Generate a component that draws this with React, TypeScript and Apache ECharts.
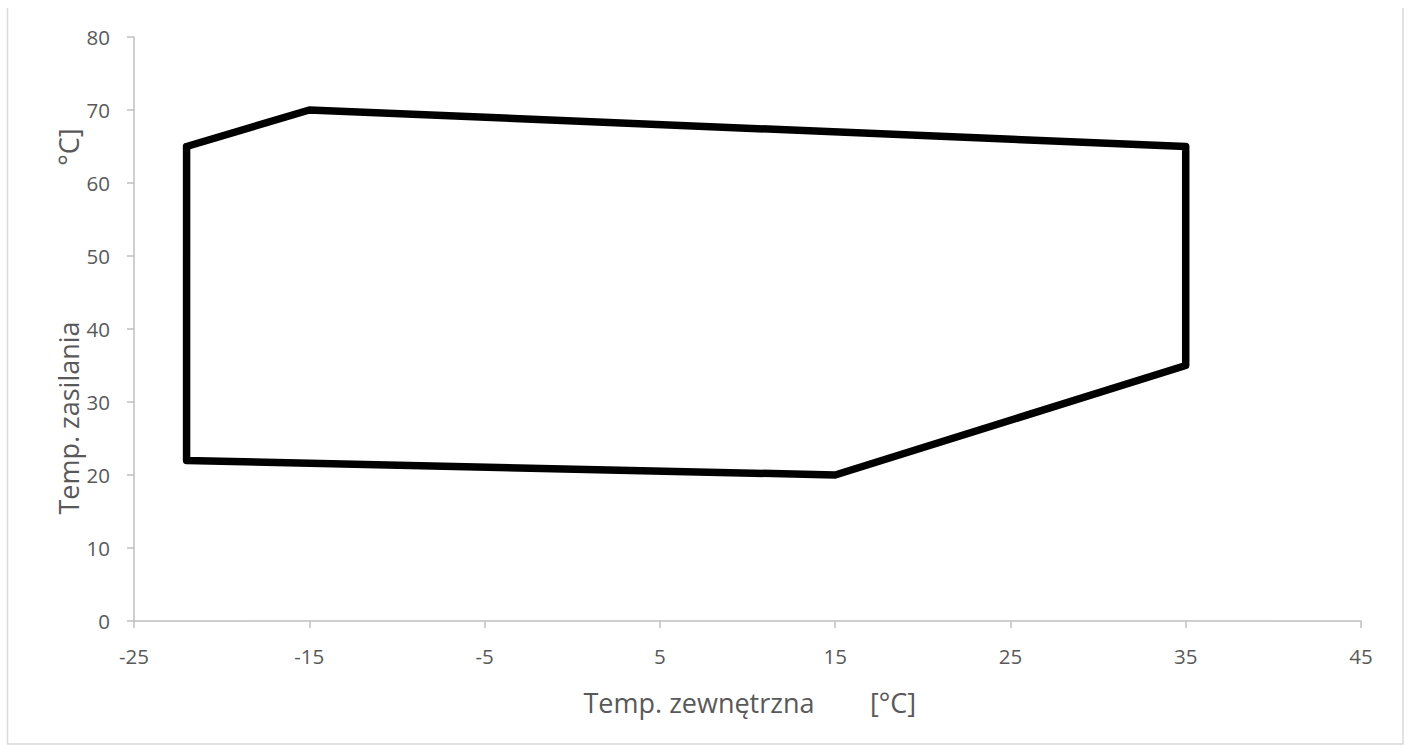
import React, { useEffect, useRef } from "react";
import * as echarts from "echarts";

const outdoorTemp: number[] = [-22, -15, 35, 35, 15, -22, -22];
const supplyTemp: number[] = [65, 70, 65, 35, 20, 22, 65];
const xTicks: number[] = [-25, -15, -5, 5, 15, 25, 35, 45];
const yTicks: number[] = [0, 10, 20, 30, 40, 50, 60, 70, 80];
const xTitleMain = "Temp. zewnętrzna";
const xTitleUnit = "[°C]";
const yTitleMain = "Temp. zasilania";
const yTitleUnit = "°C]";

const FONT = "'Open Sans', 'Noto Sans', sans-serif";
const AXIS_COLOR = "#bfbfbf";
const LABEL_COLOR = "#595959";

export default function App() {
  const ref = useRef<HTMLDivElement>(null);
  useEffect(() => {
    if (!ref.current) return;
    const chart = echarts.init(ref.current, undefined, { renderer: "svg" });
    const data = outdoorTemp.map((x, i) => [x, supplyTemp[i]]);
    chart.setOption({
      animation: false,
      backgroundColor: "#ffffff",
      grid: { left: 134, right: 49, top: 37, bottom: 124, containLabel: false },
      xAxis: {
        type: "value",
        min: xTicks[0],
        max: xTicks[xTicks.length - 1],
        axisLine: { show: true, onZero: false, lineStyle: { color: AXIS_COLOR, width: 1.5 } },
        axisTick: { show: true, inside: false, length: 7, customValues: xTicks, lineStyle: { color: AXIS_COLOR, width: 1.5 } },
        axisLabel: { customValues: xTicks, margin: 24, color: LABEL_COLOR, fontSize: 20.5, fontFamily: FONT },
        splitLine: { show: false },
      },
      yAxis: {
        type: "value",
        min: yTicks[0],
        max: yTicks[yTicks.length - 1],
        interval: 10,
        axisLine: { show: true, onZero: false, lineStyle: { color: AXIS_COLOR, width: 1.5 } },
        axisTick: { show: true, inside: false, length: 7, lineStyle: { color: AXIS_COLOR, width: 1.5 } },
        axisLabel: { margin: 24, color: LABEL_COLOR, fontSize: 20.5, fontFamily: FONT },
        splitLine: { show: false },
      },
      graphic: [
        { type: "line", shape: { x1: 7.5, y1: 8, x2: 7.5, y2: 744 }, style: { stroke: "#d9d9d9", lineWidth: 1.5 } },
        { type: "line", shape: { x1: 1403, y1: 8, x2: 1403, y2: 744 }, style: { stroke: "#d9d9d9", lineWidth: 1.5 } },
        { type: "line", shape: { x1: 7, y1: 744, x2: 1403.5, y2: 744 }, style: { stroke: "#d9d9d9", lineWidth: 1.5 } },
        {
          type: "text",
          x: 699,
          y: 702,
          style: { text: xTitleMain, fontSize: 27, fontFamily: FONT, fill: LABEL_COLOR, align: "center", verticalAlign: "middle" },
        },
        {
          type: "text",
          x: 893,
          y: 702,
          style: { text: xTitleUnit, fontSize: 27, fontFamily: FONT, fill: LABEL_COLOR, align: "center", verticalAlign: "middle" },
        },
        {
          type: "text",
          x: 68,
          y: 418,
          rotation: Math.PI / 2,
          style: { text: yTitleMain, fontSize: 27, fontFamily: FONT, fill: LABEL_COLOR, align: "center", verticalAlign: "middle" },
        },
        {
          type: "text",
          x: 68,
          y: 147,
          rotation: Math.PI / 2,
          style: { text: yTitleUnit, fontSize: 27, fontFamily: FONT, fill: LABEL_COLOR, align: "center", verticalAlign: "middle" },
        },
      ],
      series: [
        {
          type: "line",
          data,
          symbol: "none",
          lineStyle: { color: "#000000", width: 7.5, join: "round", cap: "round" },
          silent: true,
        },
      ],
    });
    return () => chart.dispose();
  }, []);
  return <div ref={ref} style={{ position: "absolute", left: 0, top: 0, width: 1410, height: 745 }} />;
}
